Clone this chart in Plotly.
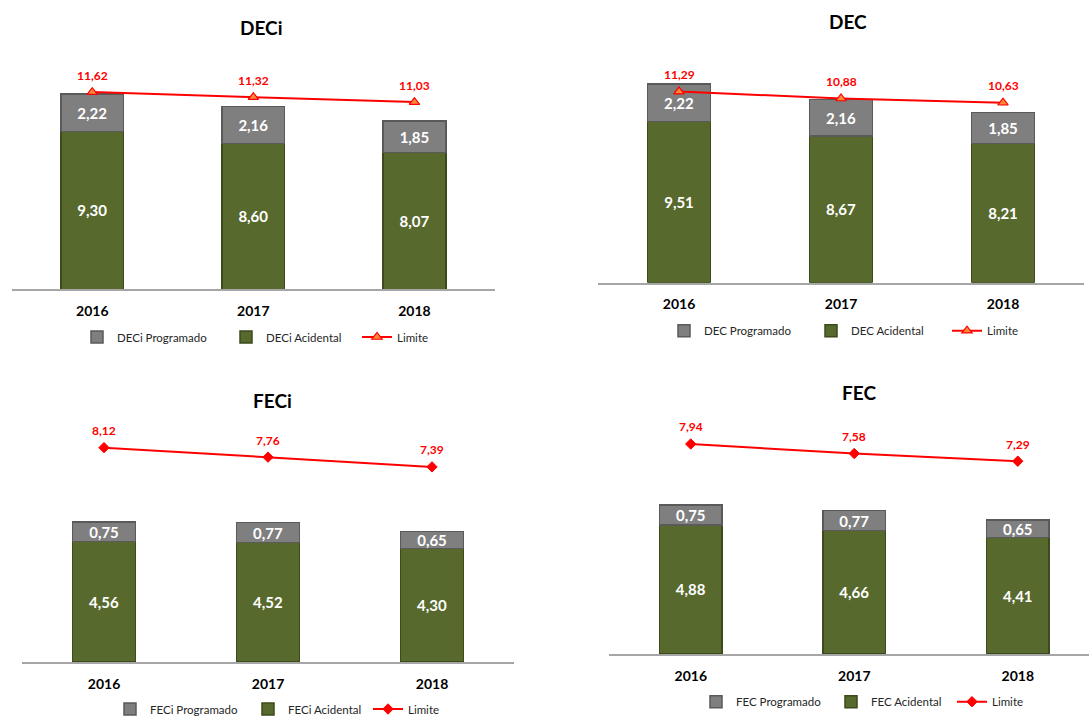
import plotly.graph_objects as go

# ---------------- data ----------------
years = ["2016", "2017", "2018"]

deci_prog = [2.22, 2.16, 1.85]
deci_acid = [9.30, 8.60, 8.07]
deci_lim = [11.62, 11.32, 11.03]

dec_prog = [2.22, 2.16, 1.85]
dec_acid = [9.51, 8.67, 8.21]
dec_lim = [11.29, 10.88, 10.63]

feci_prog = [0.75, 0.77, 0.65]
feci_acid = [4.56, 4.52, 4.30]
feci_lim = [8.12, 7.76, 7.39]

fec_prog = [0.75, 0.77, 0.65]
fec_acid = [4.88, 4.66, 4.41]
fec_lim = [7.94, 7.58, 7.29]

titles = ["DECi", "DEC", "FECi", "FEC"]
prog_names = ["DECi Programado", "DEC Programado", "FECi Programado", "FEC Programado"]
acid_names = ["DECi Acidental", "DEC Acidental", "FECi Acidental", "FEC Acidental"]
lim_name = "Limite"

# ---------------- style / geometry ----------------
W, H = 1089, 716
FONT = "Lato"
GREEN = "#57692D"
GREEN_EDGE = "#3C4A1C"
GRAY = "#7F7F7F"
GRAY_EDGE = "#5A5A5A"
RED = "#FF0000"

panels = [
    dict(prog=deci_prog, acid=deci_acid, lim=deci_lim, x0=11.7, x1=495, spacing=None,
         base=289.3, ppu=16.97, ymax=14, title=(261, 27), leg=(77, 337, 104, 86),
         marker=dict(symbol="triangle-up", size=9, color="#F7893B", line=dict(color=RED, width=1.2))),
    dict(prog=dec_prog, acid=dec_acid, lim=dec_lim, x0=598, x1=1084, spacing=None,
         base=282.7, ppu=16.93, ymax=14, title=(848, 21), leg=(664, 330.7, 102, 91),
         marker=dict(symbol="triangle-up", size=9, color="#F7893B", line=dict(color=RED, width=1.2))),
    dict(prog=feci_prog, acid=feci_acid, lim=feci_lim, x0=22, x1=514, spacing=None,
         base=662, ppu=26.4, ymax=9, title=(272, 400), leg=(110, 709, 93, 75),
         marker=dict(symbol="diamond", size=8, color=RED, line=dict(color=RED, width=1))),
    dict(prog=fec_prog, acid=fec_acid, lim=fec_lim, x0=609, x1=1089, spacing=163.5,
         base=654, ppu=26.45, ymax=9, title=(859, 392), leg=(696, 701.7, 90, 76),
         marker=dict(symbol="diamond", size=8, color=RED, line=dict(color=RED, width=1))),
]


def fmt(v):
    return f"{v:.2f}".replace(".", ",")


fig = go.Figure()
annotations = []
layout_axes = {}

for i, p in enumerate(panels):
    n = i + 1
    sfx = "" if n == 1 else str(n)
    xa, ya = "x" + sfx, "y" + sfx
    leg = "legend" + sfx
    spacing = p["spacing"] or (p["x1"] - p["x0"]) / 3
    xr_end = -0.5 + (p["x1"] - p["x0"]) / spacing
    bw = 62.7 / spacing

    top_px = p["base"] - p["ymax"] * p["ppu"]

    fig.add_trace(go.Bar(
        x=years, y=p["acid"], name=acid_names[i], xaxis=xa, yaxis=ya, legend=leg,
        legendrank=2, width=bw, legendwidth=p["leg"][3],
        marker=dict(color=GREEN, line=dict(color=GREEN_EDGE, width=1.5)),
        texttemplate="%{y:.2f}", textposition="inside", insidetextanchor="middle",
        textangle=0, constraintext="none",
        insidetextfont=dict(family=FONT, size=15, color="white", weight="bold"),
    ))
    fig.add_trace(go.Bar(
        x=years, y=p["prog"], name=prog_names[i], xaxis=xa, yaxis=ya, legend=leg,
        legendrank=1, width=bw, legendwidth=p["leg"][2],
        marker=dict(color=GRAY, line=dict(color=GRAY_EDGE, width=1.5)),
        texttemplate="%{y:.2f}", textposition="inside", insidetextanchor="middle",
        textangle=0, constraintext="none",
        insidetextfont=dict(family=FONT, size=15, color="white", weight="bold"),
    ))
    fig.add_trace(go.Scatter(
        x=years, y=p["lim"], name=lim_name, xaxis=xa, yaxis=ya, legend=leg,
        legendrank=3, mode="lines+markers",
        line=dict(color=RED, width=2), marker=p["marker"],
    ))

    # category axes take the category's serial number for annotations
    for k, v in enumerate(p["lim"]):
        annotations.append(dict(
            x=k, y=v, xref=xa, yref=ya, text=fmt(v), showarrow=False,
            yshift=17, font=dict(family=FONT, size=12, color=RED, weight="bold"),
        ))

    tx, ty = p["title"]
    annotations.append(dict(
        x=tx / W, y=1 - ty / H, xref="paper", yref="paper", text="<b>%s</b>" % titles[i],
        showarrow=False, xanchor="center", yanchor="middle",
        font=dict(family=FONT, size=19, color="black"),
    ))

    layout_axes["xaxis" + sfx] = dict(
        domain=[p["x0"] / W, min(p["x1"] / W, 1)], anchor=ya, type="category",
        range=[-0.5, xr_end], showline=True, linecolor="#A6A6A6", linewidth=1.5,
        showgrid=False, zeroline=False, ticks="", ticklabelstandoff=8,
        tickfont=dict(family=FONT, size=14, color="black", weight="bold"),
    )
    layout_axes["yaxis" + sfx] = dict(
        domain=[1 - p["base"] / H, 1 - top_px / H], anchor=xa,
        range=[0, p["ymax"]], visible=False, showgrid=False, zeroline=False,
    )
    L, ly = p["leg"][0], p["leg"][1]
    layout_axes[leg] = dict(
        orientation="h", x=L / W, y=1 - ly / H, xanchor="left", yanchor="middle",
        bgcolor="rgba(0,0,0,0)", font=dict(family=FONT, size=11.5, color="#262626"),
        itemclick=False, itemdoubleclick=False, traceorder="normal",
    )

fig.update_layout(
    width=W, height=H, margin=dict(l=0, r=0, t=0, b=0, autoexpand=False),
    paper_bgcolor="white", plot_bgcolor="white",
    barmode="stack", separators=",.", showlegend=True,
    font=dict(family=FONT),
    annotations=annotations,
    **layout_axes,
)

fig.write_html(
    "out.html",
    config={"displayModeBar": False},
    post_script="document.body.style.margin='0';document.body.style.overflow='hidden';",
)
